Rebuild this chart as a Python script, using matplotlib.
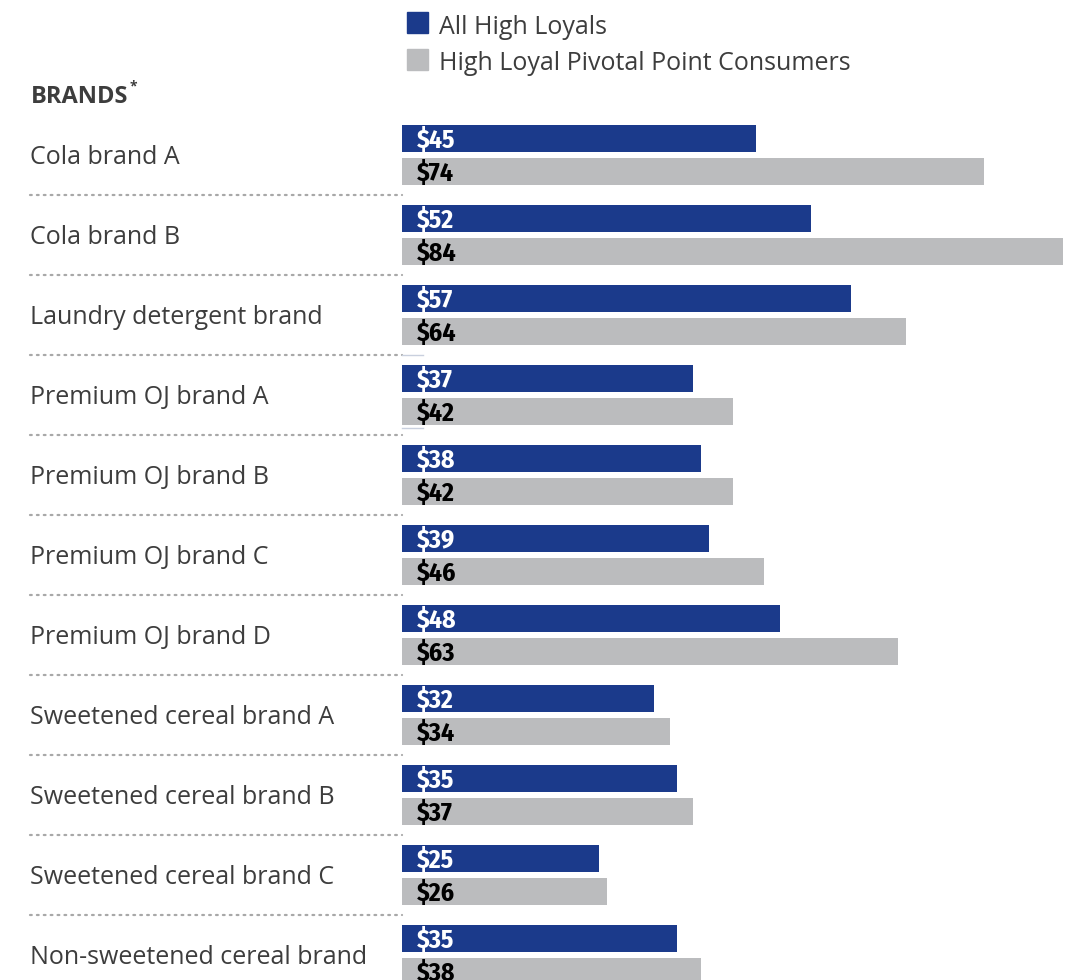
import numpy as np
import matplotlib
matplotlib.use("Agg")
from matplotlib import pyplot as plt
from matplotlib import transforms as mtrans
from matplotlib.patches import Rectangle

brands = [
    "Cola brand A",
    "Cola brand B",
    "Laundry detergent brand",
    "Premium OJ brand A",
    "Premium OJ brand B",
    "Premium OJ brand C",
    "Premium OJ brand D",
    "Sweetened cereal brand A",
    "Sweetened cereal brand B",
    "Sweetened cereal brand C",
    "Non-sweetened cereal brand",
]
all_high_loyals = [45, 52, 57, 37, 38, 39, 48, 32, 35, 25, 35]
pivotal_point = [74, 84, 64, 42, 42, 46, 63, 34, 37, 26, 38]
series_names = ["All High Loyals", "High Loyal Pivotal Point Consumers"]

BLUE = "#1b3a8b"
GREY = "#bbbcbe"
TEXT = "#3d3d3d"
LABEL_FONT = ["Open Sans", "DejaVu Sans"]
NUM_FONT = ["Fira Sans Condensed", "Roboto Condensed", "DejaVu Sans"]

W, H = 1068, 980
fig = plt.figure(figsize=(W / 100, H / 100), dpi=100)

# bar area: x=0 sits at pixel 402, $84 reaches pixel 1063; y in pixels from top
ax = fig.add_axes([402 / W, 0, (W - 402) / W, 1])
ax.set_xlim(0, 84 * (W - 402) / (1063 - 402))
ax.set_ylim(H, 0)
ax.axis("off")

row0, step, bar_h = 155, 80, 27
idx = np.arange(len(brands))
centers = row0 + idx * step
ax.barh(centers - 16.5, all_high_loyals, height=bar_h, color=BLUE, clip_on=False)
ax.barh(centers + 16.5, pivotal_point, height=bar_h, color=GREY, clip_on=False)

num_off = 15 / ((1063 - 402) / 84)
for c, v1, v2 in zip(centers, all_high_loyals, pivotal_point):
    ax.text(num_off, c - 17, f"${v1}", color="white", fontsize=18.5, fontweight="bold",
            family=NUM_FONT, va="center_baseline", ha="left", clip_on=False)
    ax.text(num_off, c + 16, f"${v2}", color="black", fontsize=18.5, fontweight="bold",
            family=NUM_FONT, va="center_baseline", ha="left", clip_on=False)

# brand names and dotted separators, x in figure fraction, y in pixels
tr = mtrans.blended_transform_factory(fig.transFigure, ax.transData)
for i, (c, name) in enumerate(zip(centers, brands)):
    ax.text(30 / W, c - 1, name, transform=tr, color=TEXT, fontsize=18, family=LABEL_FONT,
            va="center_baseline", ha="left", clip_on=False)
    if i < len(brands) - 1:
        ax.plot([30 / W, 402 / W], [c + 40, c + 40], transform=tr, color="#a8a8a8",
                lw=1.6, linestyle=(0, (0.8, 2.3)), dash_capstyle="round", clip_on=False)

# two faint stubs that sit next to the OJ A group
for yy in [355, 428]:
    ax.plot([402 / W, 423 / W], [yy, yy], transform=tr, color="#c9d0de", lw=1, clip_on=False)

ax.text(31 / W, 94, "BRANDS", transform=tr, color=TEXT, fontsize=17, fontweight="bold",
        family=LABEL_FONT, va="center_baseline", ha="left", clip_on=False)
ax.text(130 / W, 86, "*", transform=tr, color=TEXT, fontsize=10, fontweight="bold",
        family=LABEL_FONT, va="center", ha="left", clip_on=False)

# legend
for k, (name, col) in enumerate(zip(series_names, [BLUE, GREY])):
    y = 23 + 37 * k
    fig.patches.append(Rectangle((407 / W, 1 - (y + 10.5) / H), 21 / W, 21 / H,
                                 transform=fig.transFigure, color=col))
    fig.text(439 / W, 1 - (y + 1) / H, name, color=TEXT, fontsize=18, family=LABEL_FONT,
             va="center_baseline", ha="left")

plt.savefig("out.png", dpi=100)
plt.close()
